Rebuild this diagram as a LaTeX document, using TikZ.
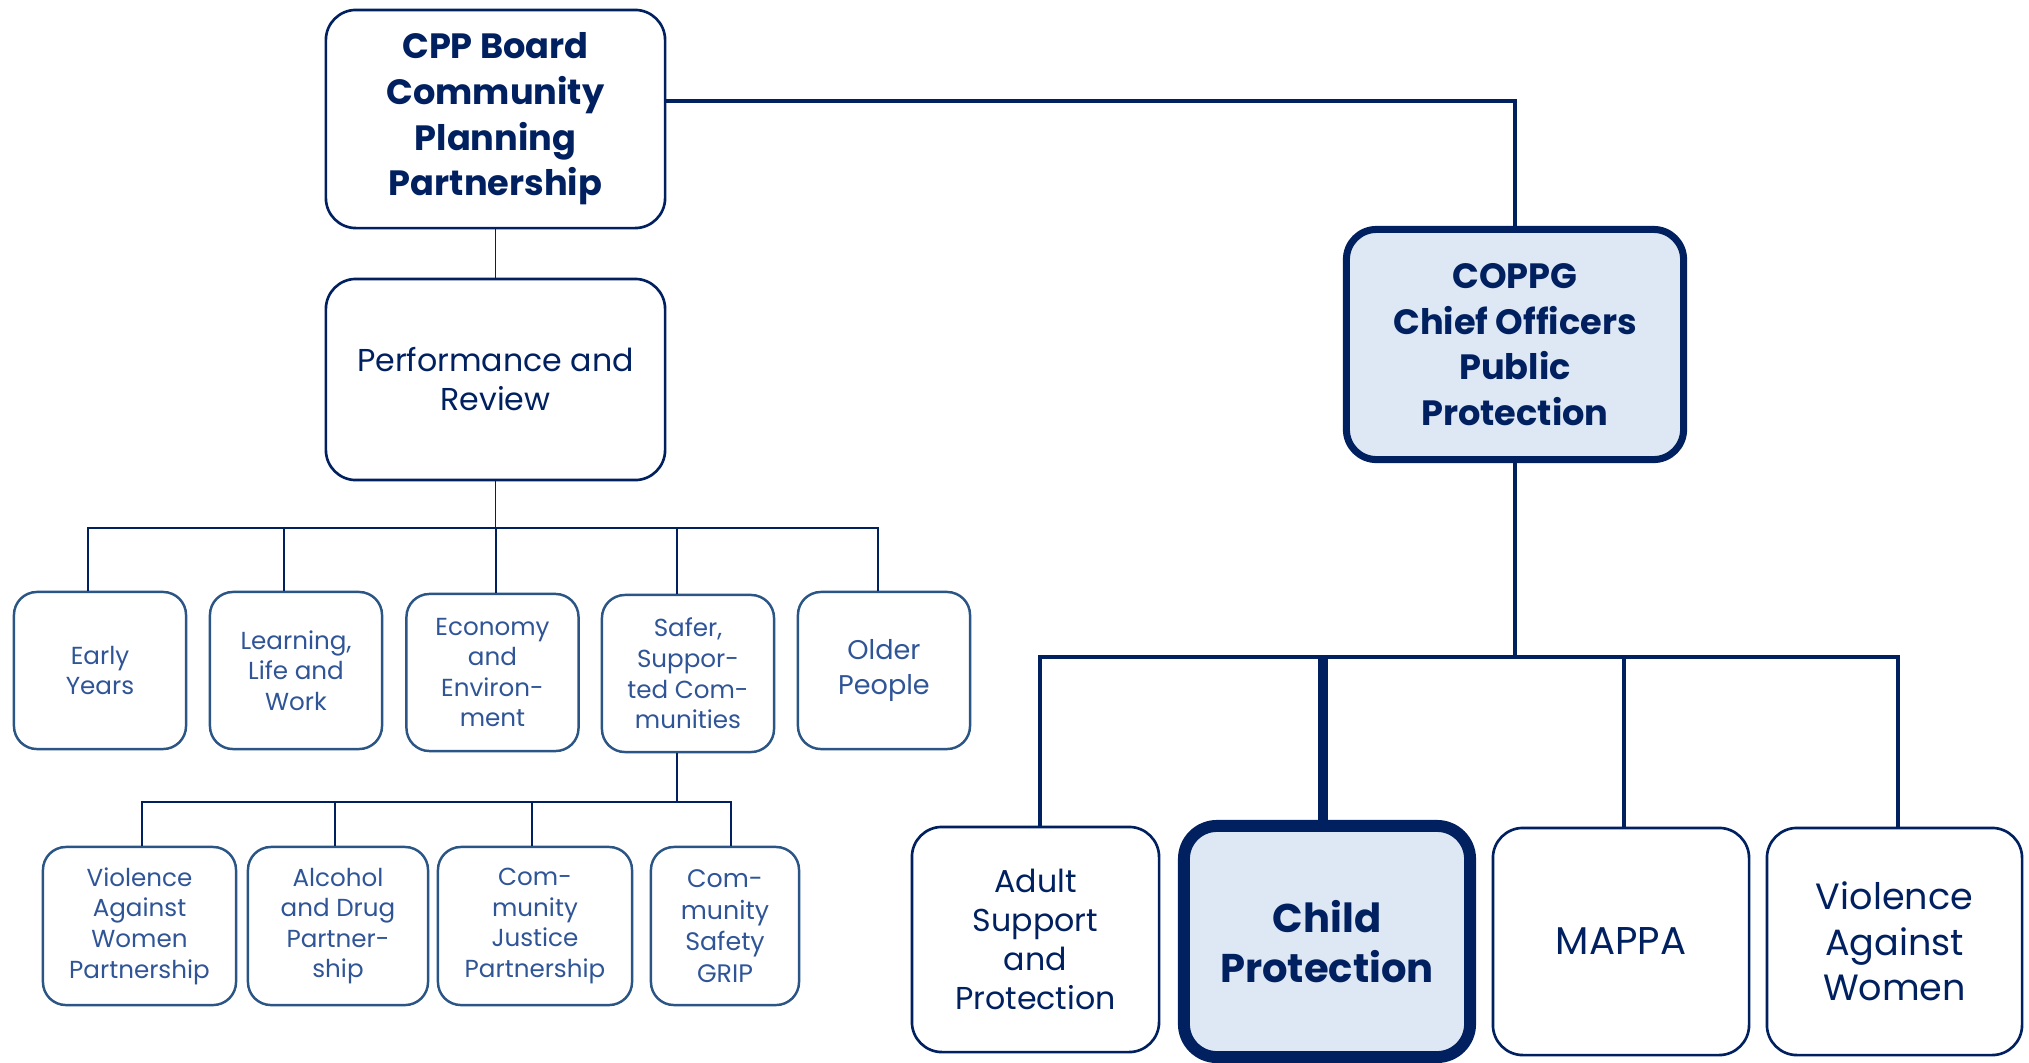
\documentclass[tikz,border=0pt]{standalone}
\usepackage{fontspec}
\setmainfont{Poppins}
\usepackage{tikz}
\definecolor{navy}{HTML}{002060}
\definecolor{steel}{HTML}{2B5585}
\definecolor{textblue}{HTML}{2F5597}
\definecolor{paleblue}{HTML}{DEE8F4}
\tikzstyle{bigbox}=[draw=navy, line width=0.75pt, rounded corners=0.3cm, align=center, text=navy, inner sep=0pt, font=\fontsize{9}{11.1}\selectfont]
\tikzstyle{smallbox}=[draw=steel, line width=0.7pt, rounded corners=0.23cm, align=center, text=textblue, inner sep=0pt, font=\fontsize{7}{8.7}\selectfont]
\tikzstyle{keybox}=[bigbox, fill=paleblue, line width=2pt, font=\bfseries\fontsize{10}{13}\selectfont]
\tikzstyle{thinline}=[draw=navy, line width=0.45pt]
\tikzstyle{fatline}=[draw=navy, line width=1.4pt]

\begin{document}
\begin{tikzpicture}[x=0.01cm, y=-0.01cm]
			\useasboundingbox (0,0) rectangle (2029,1063);
			% community planning side
			\node[bigbox, minimum width=3.39cm, minimum height=2.18cm, font=\bfseries\fontsize{10}{13}\selectfont] (cpp) at (495.5,119) {CPP Board\\Community\\Planning\\Partnership};
			\node[bigbox, minimum width=3.39cm, minimum height=2.01cm] (perf) at (495.5,379.5) {Performance and\\Review};
			\node[smallbox, minimum width=1.72cm, minimum height=1.57cm] (early) at (100,670.5) {Early\\Years};
			\node[smallbox, minimum width=1.72cm, minimum height=1.57cm] (learn) at (296,670.5) {Learning,\\Life and\\Work};
			\node[smallbox, minimum width=1.72cm, minimum height=1.57cm] (econ) at (492.5,672.5) {Economy\\and\\Environ-\\ment};
			\node[smallbox, minimum width=1.72cm, minimum height=1.57cm] (safer) at (688,673.5) {Safer,\\Suppor-\\ted Com-\\munities};
			\node[smallbox, minimum width=1.72cm, minimum height=1.57cm, font=\fontsize{7.7}{9.7}\selectfont] (older) at (884,670.5) {Older\\People};
			\node[smallbox, minimum width=1.93cm, minimum height=1.58cm] (vawp) at (139.5,926) {Violence\\Against\\Women\\Partnership};
			\node[smallbox, minimum width=1.80cm, minimum height=1.58cm] (alco) at (338,926) {Alcohol\\and Drug\\Partner-\\ship};
			\node[smallbox, minimum width=1.94cm, minimum height=1.58cm] (justice) at (535,926) {Com-\\munity\\Justice\\Partnership};
			\node[smallbox, minimum width=1.48cm, minimum height=1.58cm, font=\fontsize{7.2}{9}\selectfont] (grip) at (725,926) {Com-\\munity\\Safety\\GRIP};
			% public protection side
			\node[keybox, minimum width=3.37cm, minimum height=2.30cm] (coppg) at (1515,344.5) {COPPG\\Chief Officers\\Public\\Protection};
			\node[bigbox, minimum width=2.47cm, minimum height=2.25cm] (adult) at (1035.5,939.5) {Adult\\Support\\and\\Protection};
			\node[keybox, line width=3.4pt, rounded corners=0.33cm, minimum width=2.86cm, minimum height=2.31cm, font=\bfseries\fontsize{11.4}{14}\selectfont] (child) at (1327,941.5) {Child\\Protection};
			\node[bigbox, minimum width=2.56cm, minimum height=2.27cm, font=\fontsize{11}{13}\selectfont] (mappa) at (1621,941.5) {MAPPA};
			\node[bigbox, minimum width=2.55cm, minimum height=2.27cm, font=\fontsize{10.4}{13}\selectfont] (vawr) at (1894.5,941.5) {Violence\\Against\\Women};
			% bus points
			\coordinate (b1) at (88,528);
			\coordinate (b2) at (284,528);
			\coordinate (b3) at (496,528);
			\coordinate (b4) at (677,528);
			\coordinate (b5) at (878,528);
			\coordinate (c1) at (142,802);
			\coordinate (c2) at (335,802);
			\coordinate (c3) at (532,802);
			\coordinate (c4) at (731,802);
			\coordinate (k) at (1515,101);
			\coordinate (d1) at (1040,657);
			\coordinate (d2) at (1323,657);
			\coordinate (d3) at (1624,657);
			\coordinate (d4) at (1898,657);
			\path[thinline]
				(cpp.south)--(perf.north)
				(perf.south)--(perf.south |- b3)
				(b1 |- early.north)--(b1)--(b5)--(b5 |- older.north)
				(b2)--(b2 |- learn.north)
				(b3)--(b3 |- econ.north)
				(b4)--(b4 |- safer.north);
			\path[thinline]
				(b4 |- safer.south)--(b4 |- c1)
				(c1 |- vawp.north)--(c1)--(c4)--(c4 |- grip.north)
				(c2)--(c2 |- alco.north)
				(c3)--(c3 |- justice.north);
			\path[fatline]
				(cpp.east |- k)--(k)--(coppg.north)
				(coppg.south)--(coppg.south |- d1)
				(d1 |- adult.north)--(d1)--(d4)--(d4 |- vawr.north)
				(d3)--(d3 |- mappa.north);
			\path[draw=navy, line width=3.1pt] (d2)--(d2 |- child.north);
		\end{tikzpicture}
\end{document}
